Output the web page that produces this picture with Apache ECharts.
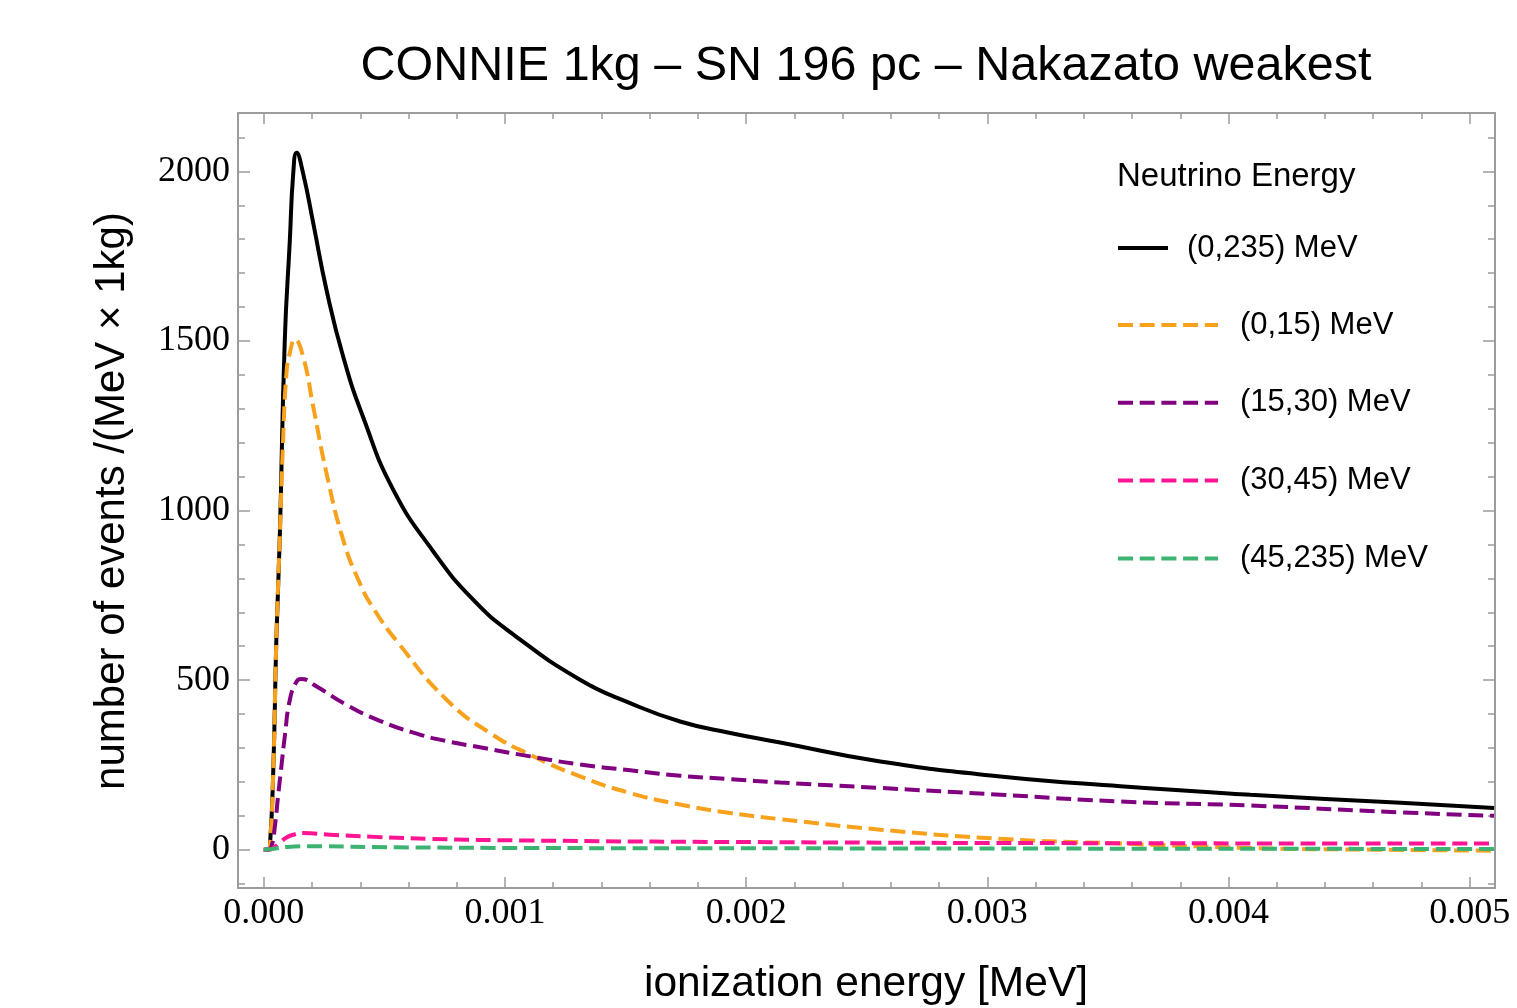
<!DOCTYPE html>
<html>
<head>
<meta charset="utf-8">
<title>CONNIE 1kg - SN 196 pc - Nakazato weakest</title>
<script src="https://cdn.jsdelivr.net/npm/echarts@6/dist/echarts.min.js"></script>
<style>
html, body { margin: 0; padding: 0; background: #fff; }
#main { width: 1517px; height: 1008px; }
</style>
</head>
<body>
<div id="main"></div>
<script>
// values (x in MeV)
var blackX = [0, 0.000018, 0.000025, 0.000039, 0.000052, 0.000066, 0.000087, 0.000108, 0.000122, 0.000136, 0.000163, 0.000205, 0.00026, 0.000329, 0.000412, 0.000537, 0.000702, 0.000868, 0.001034, 0.001311, 0.001519, 0.001726, 0.001934, 0.002141, 0.002556, 0.003054, 0.003552, 0.004091, 0.004714, 0.005101];
var blackY = [0, 0, 5, 227, 619, 914, 1503, 1798, 1994, 2055, 1994, 1847, 1650, 1454, 1275, 1061, 880, 737, 635, 501, 432, 378, 344, 316, 260, 216, 187, 162, 138, 123];

var orangeX = [0, 0.000018, 0.000025, 0.000039, 0.000052, 0.000066, 0.00008, 0.000094, 0.000108, 0.000129, 0.000163, 0.000205, 0.00026, 0.000329, 0.000398, 0.000454, 0.000557, 0.000758, 0.000938, 0.001104, 0.001311, 0.001519, 0.001726, 0.001934, 0.002141, 0.002556, 0.003054, 0.003552, 0.004091, 0.0046, 0.005101];
var orangeY = [0, 0, 5, 227, 619, 914, 1208, 1405, 1465, 1505, 1454, 1306, 1110, 914, 786, 712, 610, 442, 344, 280, 216, 167, 133, 108, 90, 59, 32, 18, 5, 0, -3];

var purpleX = [0, 0.000018, 0.000032, 0.000046, 0.000059, 0.000073, 0.000087, 0.000108, 0.000136, 0.000156, 0.000219, 0.000343, 0.000481, 0.00062, 0.000758, 0.000896, 0.001104, 0.001311, 0.001519, 0.001726, 0.001934, 0.002141, 0.002556, 0.003054, 0.003552, 0.004091, 0.004714, 0.005101];
var purpleY = [0, 0, 10, 69, 157, 246, 334, 442, 496, 503, 481, 427, 380, 345, 320, 302, 275, 251, 234, 218, 208, 198, 182, 162, 142, 130, 110, 100];

var pinkX = [0, 0.000018, 0.000035, 0.000066, 0.000094, 0.000122, 0.000163, 0.000274, 0.000481, 0.000689, 0.00109, 0.002141, 0.003552, 0.005101];
var pinkY = [0, 0, 3, 20, 36, 44, 49, 44, 37, 32, 27, 22, 19, 18];

var greenX = [0, 0.000035, 0.000094, 0.000177, 0.000551, 0.00109, 0.002141, 0.003552, 0.005101];
var greenY = [0, 2, 8, 10, 7, 5, 4, 3, 2];

var seriesNames = ['(0,235) MeV', '(0,15) MeV', '(15,30) MeV', '(30,45) MeV', '(45,235) MeV'];

var xMajor = [0, 0.001, 0.002, 0.003, 0.004, 0.005];
var xMinor = [0.0002, 0.0004, 0.0006, 0.0008, 0.0012, 0.0014, 0.0016, 0.0018, 0.0022, 0.0024, 0.0026, 0.0028,
              0.0032, 0.0034, 0.0036, 0.0038, 0.0042, 0.0044, 0.0046, 0.0048];
var yMajor = [0, 500, 1000, 1500, 2000];
var yMinor = [-100, 100, 200, 300, 400, 600, 700, 800, 900, 1100, 1200, 1300, 1400,
              1600, 1700, 1800, 1900, 2100];

var xMin = -0.000107, xMax = 0.005105;
var yMin = -113, yMax = 2172;

function pairs(xs, ys) {
	var out = [];
	for (var i = 0; i < xs.length; i++) out.push([xs[i], ys[i]]);
	return out;
}

var frameColor = '#9c9c9c';
var sans = 'Liberation Sans, Arial, Helvetica, sans-serif';
var serif = 'Liberation Serif, Times New Roman, serif';

function xAxisCfg(pos, major) {
	return {
		type: 'value', position: pos, min: xMin, max: xMax,
		axisLine: { show: major, onZero: false, lineStyle: { color: frameColor, width: 2 } },
		axisTick: { show: true, inside: true, length: major ? 11 : 6, customValues: major ? xMajor : xMinor,
			lineStyle: { color: frameColor, width: 1.5 } },
		axisLabel: { show: major && pos == 'bottom', customValues: xMajor, margin: 8,
			fontFamily: serif, fontSize: 36, color: '#000',
			formatter: function (v) { return v.toFixed(3); } },
		splitLine: { show: false }
	};
}
function yAxisCfg(pos, major) {
	return {
		type: 'value', position: pos, min: yMin, max: yMax,
		axisLine: { show: major, onZero: false, lineStyle: { color: frameColor, width: 2 } },
		axisTick: { show: true, inside: true, length: major ? 12 : 7, customValues: major ? yMajor : yMinor,
			lineStyle: { color: frameColor, width: 1.5 } },
		axisLabel: { show: major && pos == 'left', customValues: yMajor, margin: 8,
			fontFamily: serif, fontSize: 36, color: '#000',
			formatter: function (v) { return String(Math.round(v)); } },
		splitLine: { show: false }
	};
}

var lineColors = ['#000000', '#f8a11c', '#800080', '#ff1493', '#3cb371'];
var xsList = [blackX, orangeX, purpleX, pinkX, greenX];
var ysList = [blackY, orangeY, purpleY, pinkY, greenY];
var seriesList = [];
for (var i = 0; i < seriesNames.length; i++) {
	seriesList.push({
		name: seriesNames[i], type: 'line', xAxisIndex: 0, yAxisIndex: 0,
		data: pairs(xsList[i], ysList[i]),
		smooth: 0.5, symbol: 'none', showSymbol: false,
		clip: true, animation: false,
		lineStyle: { color: lineColors[i], width: 4, type: i == 0 ? 'solid' : [15, 6.7] },
		itemStyle: { color: lineColors[i] }
	});
}

var legendText = { fontFamily: sans, fontSize: 31, color: '#000', lineHeight: 32 };

var myChart = echarts.init(document.getElementById('main'), null, { renderer: 'canvas' });
var option = {
	backgroundColor: '#fff',
	animation: false,
	graphic: [
		{ type: 'text', x: 866, y: 67, style: { text: 'CONNIE 1kg \u2013 SN 196 pc \u2013 Nakazato weakest',
			font: '48.5px ' + sans, fill: '#000', textAlign: 'center', textVerticalAlign: 'middle' } },
		{ type: 'text', x: 866, y: 984, style: { text: 'ionization energy [MeV]',
			font: '42.5px ' + sans, fill: '#000', textAlign: 'center', textVerticalAlign: 'middle' } },
		{ type: 'text', x: 112, y: 501, rotation: Math.PI / 2, style: { text: 'number of events /(MeV \u00d7 1kg)',
			font: '42px ' + sans, fill: '#000', textAlign: 'center', textVerticalAlign: 'middle' } },
		{ type: 'text', x: 1117, y: 177, style: { text: 'Neutrino Energy',
			font: '33px ' + sans, fill: '#000', textAlign: 'left', textVerticalAlign: 'middle' } }
	],
	legend: [
		{
			data: [seriesNames[0]], left: 1116, top: 232, orient: 'vertical', padding: 0,
			itemWidth: 50, itemHeight: 32, selectedMode: false,
			itemStyle: { opacity: 0 }, lineStyle: { width: 4 },
			textStyle: Object.assign({ padding: [0, 0, 0, 14] }, legendText)
		},
		{
			data: seriesNames.slice(1), left: 1116, top: 309, orient: 'vertical', padding: 0,
			itemWidth: 100, itemHeight: 32, itemGap: 45.8, selectedMode: false,
			itemStyle: { opacity: 0 }, lineStyle: { width: 4 },
			textStyle: Object.assign({ padding: [0, 0, 0, 17] }, legendText)
		}
	],
	grid: { left: 238, right: 22, top: 113, bottom: 120 },
	xAxis: [xAxisCfg('bottom', true), xAxisCfg('bottom', false), xAxisCfg('top', true), xAxisCfg('top', false)],
	yAxis: [yAxisCfg('left', true), yAxisCfg('left', false), yAxisCfg('right', true), yAxisCfg('right', false)],
	series: seriesList
};
myChart.setOption(option);
</script>
</body>
</html>
